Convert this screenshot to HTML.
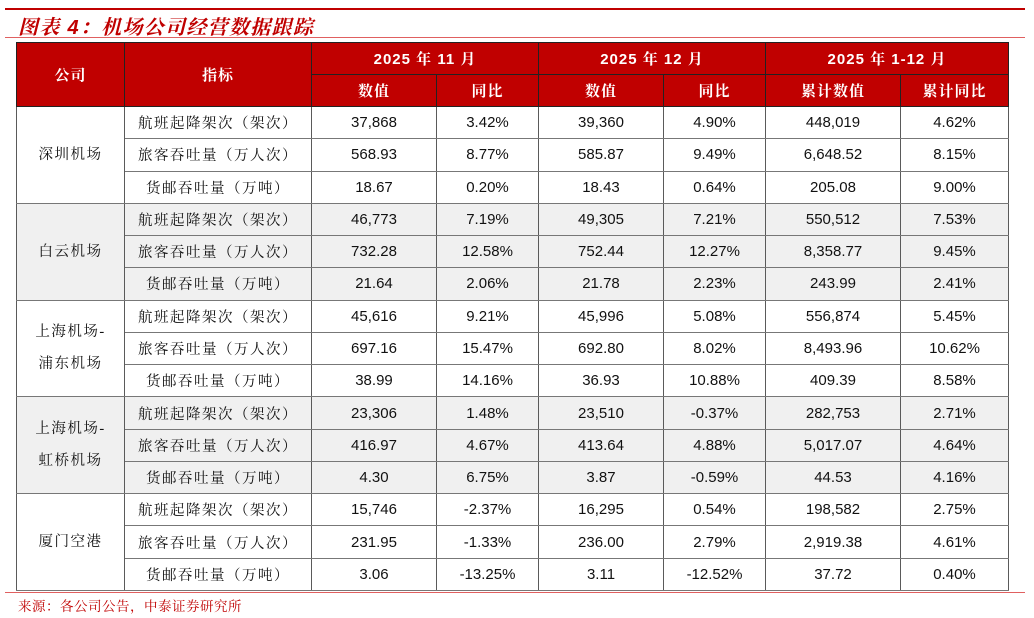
<!DOCTYPE html>
<html><head><meta charset="utf-8">
<style>
body{margin:0;width:1034px;height:618px;background:#fff;position:relative;overflow:hidden;font-family:"Liberation Sans","Noto Sans CJK SC",sans-serif;}
.topline{position:absolute;left:5px;top:8px;width:1020px;height:2px;background:#c00000;}
.title{position:absolute;left:18px;top:11px;font-size:20px;font-style:italic;font-weight:bold;color:#c00000;font-family:"Liberation Sans","Noto Serif CJK SC",serif;letter-spacing:1.3px;}
.tline{position:absolute;left:5px;top:37px;width:1020px;height:1px;background:#e06060;}
.bline{position:absolute;left:5px;top:592px;width:1020px;height:1px;background:#e06060;}
.src{position:absolute;left:18px;top:595px;font-size:13.5px;color:#c00000;font-family:"Liberation Serif","Noto Serif CJK SC",serif;letter-spacing:0.5px;}
table{position:absolute;left:16px;top:42px;border-collapse:collapse;table-layout:fixed;}
td,th{border:1px solid #5a5a5a;text-align:center;padding:0;font-size:15px;color:#111;}
th{background:#c00000;color:#fff;font-weight:bold;font-size:15px;height:31px;border-color:#222;font-family:"Liberation Sans","Noto Serif CJK SC",serif;letter-spacing:1px;}
td{height:31.27px;border-top:1.5px solid #777;border-bottom:1.5px solid #777;}
td.ind{font-family:"Liberation Serif","Noto Serif CJK SC",serif;font-size:14.5px;letter-spacing:1.5px;}
td.co{font-family:"Liberation Serif","Noto Serif CJK SC",serif;font-size:14.5px;letter-spacing:1.5px;line-height:32px;}
tr.g td{background:#f0f0f0;}
</style></head><body>
<div class="topline"></div>
<div class="title">图表 4：机场公司经营数据跟踪</div>
<div class="tline"></div>
<table>
<colgroup><col style="width:108px"><col style="width:187px"><col style="width:125px"><col style="width:102px"><col style="width:125px"><col style="width:102px"><col style="width:135px"><col style="width:108px"></colgroup>
<tr><th rowspan="2">公司</th><th rowspan="2">指标</th><th colspan="2">2025 年 11 月</th><th colspan="2">2025 年 12 月</th><th colspan="2">2025 年 1-12 月</th></tr>
<tr><th>数值</th><th>同比</th><th>数值</th><th>同比</th><th>累计数值</th><th>累计同比</th></tr>
<tbody id="tb"></tbody>
</table>
<div class="bline"></div>
<div class="src">来源：各公司公告，中泰证券研究所</div>
<script>
const companies=[["深圳机场"],["白云机场"],["上海机场-","浦东机场"],["上海机场-","虹桥机场"],["厦门空港"]];
const indicators=["航班起降架次（架次）","旅客吞吐量（万人次）","货邮吞吐量（万吨）"];
const rows=[
["37,868","3.42%","39,360","4.90%","448,019","4.62%"],
["568.93","8.77%","585.87","9.49%","6,648.52","8.15%"],
["18.67","0.20%","18.43","0.64%","205.08","9.00%"],
["46,773","7.19%","49,305","7.21%","550,512","7.53%"],
["732.28","12.58%","752.44","12.27%","8,358.77","9.45%"],
["21.64","2.06%","21.78","2.23%","243.99","2.41%"],
["45,616","9.21%","45,996","5.08%","556,874","5.45%"],
["697.16","15.47%","692.80","8.02%","8,493.96","10.62%"],
["38.99","14.16%","36.93","10.88%","409.39","8.58%"],
["23,306","1.48%","23,510","-0.37%","282,753","2.71%"],
["416.97","4.67%","413.64","4.88%","5,017.07","4.64%"],
["4.30","6.75%","3.87","-0.59%","44.53","4.16%"],
["15,746","-2.37%","16,295","0.54%","198,582","2.75%"],
["231.95","-1.33%","236.00","2.79%","2,919.38","4.61%"],
["3.06","-13.25%","3.11","-12.52%","37.72","0.40%"]];
const tb=document.getElementById('tb');
rows.forEach((r,i)=>{
  const tr=document.createElement('tr');
  
  
  const g=Math.floor(i/3);
  if(g%2===1)tr.className='g';
  if(i%3===0){
    const c=document.createElement('td');
    
    
    c.rowSpan=3;c.className='co';c.innerHTML=companies[g].join('<br>');
    tr.appendChild(c);
  }
  const ind=document.createElement('td');
  
  
  ind.className='ind';ind.textContent=indicators[i%3];
  tr.appendChild(ind);
  r.forEach(v=>{
    const c=document.createElement('td');
    
    
    c.textContent=v;tr.appendChild(c);
  });
  tb.appendChild(tr);
});
</script>
</body></html>
